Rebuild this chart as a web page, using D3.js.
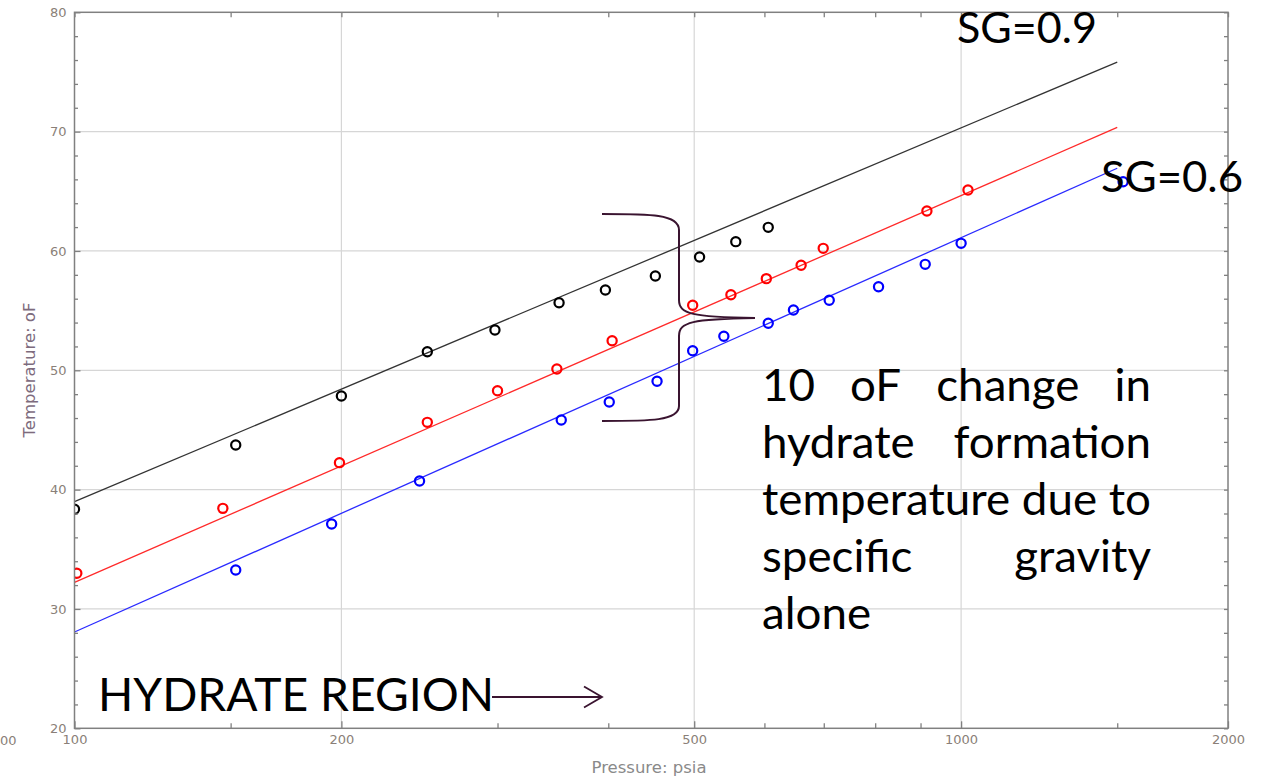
<!DOCTYPE html>
<html>
<head>
<meta charset="utf-8">
<script src="https://cdn.jsdelivr.net/npm/d3@7"></script>
<style>
  html, body { margin: 0; padding: 0; background: #fff; }
  svg { display: block; }
</style>
</head>
<body>
<svg id="chart" width="1271" height="781"></svg>
<script>
// Hydrate formation temperature vs pressure for gases of different specific gravity

// Observed points, SG = 0.9 (black)
const sg09Pressure = [100, 152, 200, 250, 298, 352, 397, 452, 507, 557, 606];
const sg09Temp     = [38.35, 43.74, 47.85, 51.56, 53.38, 55.66, 56.73, 57.9, 59.5, 60.78, 61.98];

// Observed points, intermediate gravity (red)
const sgMidPressure = [100.6, 147, 199, 250, 300, 350, 404, 498, 550, 603, 660, 699, 915, 1018];
const sgMidTemp     = [32.99, 38.43, 42.26, 45.64, 48.29, 50.11, 52.48, 55.45, 56.33, 57.68, 58.8, 60.22, 63.35, 65.11];

// Observed points, SG = 0.6 (blue)
const sg06Pressure = [152, 195, 245, 354, 401, 454, 498, 540, 606, 647, 710, 807, 911, 1000, 1523];
const sg06Temp     = [33.26, 37.12, 40.72, 45.83, 47.34, 49.08, 51.64, 52.85, 53.94, 55.05, 55.87, 57.0, 58.88, 60.64, 65.8];

// Trend lines (end points, pressure / temperature)
const trendPressure = [100, 1500];
const sg09Trend  = [38.99, 75.83];
const sgMidTrend = [32.23, 70.35];
const sg06Trend  = [28.07, 66.93];

// Axis ticks
const xLabelTicks = [100, 200, 500, 1000, 2000];
const xMinorTicks = [150, 300, 400, 600, 700, 800, 900, 1500];
const xGrid = [200, 500, 1000];
const yLabelTicks = [20, 30, 40, 50, 60, 70, 80];
const yMinorTicks = [22, 24, 26, 28, 32, 34, 36, 38, 42, 44, 46, 48, 52, 54, 56, 58, 62, 64, 66, 68, 72, 74, 76, 78];
const yGrid = [30, 40, 50, 60, 70];

// Annotation text
const noteLines = ["10 oF change in", "hydrate formation", "temperature due to", "specific gravity", "alone"];
const sgHighLabel = "SG=0.9";
const sgLowLabel = "SG=0.6";
const regionLabel = "HYDRATE REGION";

const svg = d3.select("#chart");
const L = 74.5, R = 1228, T = 12.3, B = 728.3;

const x = d3.scaleLog().domain([100, 2000]).range([L, R]);
const y = d3.scaleLinear().domain([20, 80]).range([B, T]);

const tickFont = "'DejaVu Sans', Verdana, sans-serif";
const tickColor = "#8a7f78";
const axisColor = "#808080";

// Grid
const grid = svg.append("g");
grid.selectAll(".gx").data(xGrid).join("line")
  .attr("x1", d => x(d)).attr("x2", d => x(d))
  .attr("y1", T).attr("y2", B)
  .attr("stroke", "#d6d6d6").attr("stroke-width", 1.2);
grid.selectAll(".gy").data(yGrid).join("line")
  .attr("x1", L).attr("x2", R)
  .attr("y1", d => y(d)).attr("y2", d => y(d))
  .attr("stroke", "#d6d6d6").attr("stroke-width", 1.2);

// Data layer, clipped to the frame
svg.append("defs").append("clipPath").attr("id", "plotClip")
  .append("rect").attr("x", L).attr("y", T).attr("width", R - L).attr("height", B - T);
const plot = svg.append("g").attr("clip-path", "url(#plotClip)");

const series = [
  { p: sg09Pressure, t: sg09Temp, trend: sg09Trend, line: "#333333", dot: "#000000" },
  { p: sgMidPressure, t: sgMidTemp, trend: sgMidTrend, line: "#ff2a2a", dot: "#ff0000" },
  { p: sg06Pressure, t: sg06Temp, trend: sg06Trend, line: "#2a2aff", dot: "#0000ff" }
];

const lineGen = d3.line().x(d => x(d[0])).y(d => y(d[1]));
series.forEach(s => {
  plot.append("path")
    .datum(trendPressure.map((p, i) => [p, s.trend[i]]))
    .attr("d", lineGen)
    .attr("fill", "none")
    .attr("stroke", s.line)
    .attr("stroke-width", 1.3);
});
series.forEach(s => {
  plot.selectAll(null).data(s.p.map((p, i) => [p, s.t[i]])).join("circle")
    .attr("cx", d => x(d[0])).attr("cy", d => y(d[1]))
    .attr("r", 4.6)
    .attr("fill", "none")
    .attr("stroke", s.dot)
    .attr("stroke-width", 2.2);
});

// Axes: ticks drawn inward on all four sides
function styleAxis(g) {
  g.select(".domain").remove();
  g.selectAll(".tick line").attr("stroke", axisColor).attr("stroke-width", 1.3);
  g.selectAll(".tick text").attr("fill", tickColor)
    .style("font-family", tickFont).style("font-size", "13px");
}

svg.append("g").attr("transform", `translate(0,${B})`)
  .call(d3.axisBottom(x).tickValues(xLabelTicks).tickFormat(d3.format("d")).tickSize(-7).tickPadding(6))
  .call(styleAxis);
svg.append("g").attr("transform", `translate(0,${B})`)
  .call(d3.axisBottom(x).tickValues(xMinorTicks).tickFormat("").tickSize(-5))
  .call(styleAxis);
svg.append("g").attr("transform", `translate(0,${T})`)
  .call(d3.axisTop(x).tickValues(xLabelTicks.concat(xMinorTicks)).tickFormat("").tickSize(-5))
  .call(styleAxis);

svg.append("g").attr("transform", `translate(${L},0)`)
  .call(d3.axisLeft(y).tickValues(yLabelTicks).tickFormat(d3.format("d")).tickSize(-6).tickPadding(8))
  .call(styleAxis);
svg.append("g").attr("transform", `translate(${L},0)`)
  .call(d3.axisLeft(y).tickValues(yMinorTicks).tickFormat("").tickSize(-3.5))
  .call(styleAxis);
svg.append("g").attr("transform", `translate(${R},0)`)
  .call(d3.axisRight(y).tickValues(yLabelTicks.concat(yMinorTicks)).tickFormat("").tickSize(-4))
  .call(styleAxis);

// Frame
svg.append("rect")
  .attr("x", L).attr("y", T).attr("width", R - L).attr("height", B - T)
  .attr("fill", "none").attr("stroke", axisColor).attr("stroke-width", 1.5);

// Axis titles
svg.append("text")
  .attr("x", 649).attr("y", 773)
  .attr("text-anchor", "middle")
  .attr("fill", "#8a8a8a")
  .style("font-family", tickFont).style("font-size", "16.5px")
  .text("Pressure:  psia");
svg.append("text")
  .attr("transform", `translate(35,370) rotate(-90)`)
  .attr("text-anchor", "middle")
  .attr("fill", "#7d6b7d")
  .style("font-family", tickFont).style("font-size", "16.5px")
  .text("Temperature:  oF");

// Stray "00" label sitting at the very left edge
svg.append("text")
  .attr("x", 0).attr("y", 745)
  .attr("fill", tickColor)
  .style("font-family", tickFont).style("font-size", "13px")
  .text("00");

// Annotations
const noteFont = "Lato, 'Open Sans', sans-serif";
const ink = "#000";
const braceColor = "#3a1430";

function fitText(txt, xPos, yPos, size, width) {
  return svg.append("text")
    .attr("x", xPos).attr("y", yPos)
    .attr("fill", ink)
    .style("font-family", noteFont).style("font-size", size + "px")
    .attr("textLength", width).attr("lengthAdjust", "spacingAndGlyphs")
    .text(txt);
}

fitText(sgHighLabel, 957, 43, 42, 140);
fitText(sgLowLabel, 1101, 192, 42, 142);
fitText(regionLabel, 98, 711, 47, 396);

// Arrow to the right of the region label
svg.append("line")
  .attr("x1", 492).attr("y1", 697).attr("x2", 602).attr("y2", 697)
  .attr("stroke", braceColor).attr("stroke-width", 1.8);
svg.append("path")
  .attr("d", "M584,686.5 L602,697 L584,707.5")
  .attr("fill", "none").attr("stroke", braceColor).attr("stroke-width", 1.8);

// Curly brace spanning the three trend lines
svg.append("path")
  .attr("d", "M602,214 C650,214 679,214 679,230 L679,300 C679,314 692,317 755,318 C692,319 679,322 679,336 L679,406 C679,421 650,421 602,421")
  .attr("fill", "none").attr("stroke", braceColor).attr("stroke-width", 2);

// Justified paragraph
const paraLeft = 762, paraRight = 1151, firstBase = 400.7, lineStep = 57.1, noteSize = 45;
const probe = svg.append("text").style("font-family", noteFont).style("font-size", noteSize + "px")
  .text(noteLines[2]);
const kx = (paraRight - paraLeft) / probe.node().getComputedTextLength();
probe.remove();

noteLines.forEach((line, li) => {
  const words = line.split(" ");
  const baseY = firstBase + li * lineStep;
  const nodes = words.map(w => svg.append("text")
    .attr("y", baseY).attr("fill", ink)
    .style("font-family", noteFont).style("font-size", noteSize + "px")
    .text(w));
  const widths = nodes.map(n => n.node().getComputedTextLength() * kx);
  nodes.forEach((n, i) => n.attr("textLength", widths[i]).attr("lengthAdjust", "spacingAndGlyphs"));
  const isLast = li === noteLines.length - 1;
  let gap;
  if (isLast || words.length === 1) {
    const space = svg.append("text").style("font-family", noteFont).style("font-size", noteSize + "px").text("a a");
    const aa = svg.append("text").style("font-family", noteFont).style("font-size", noteSize + "px").text("aa");
    gap = (space.node().getComputedTextLength() - aa.node().getComputedTextLength()) * kx;
    space.remove(); aa.remove();
  } else {
    gap = (paraRight - paraLeft - d3.sum(widths)) / (words.length - 1);
  }
  let cx = paraLeft;
  nodes.forEach((n, i) => { n.attr("x", cx); cx += widths[i] + gap; });
});
</script>
</body>
</html>
